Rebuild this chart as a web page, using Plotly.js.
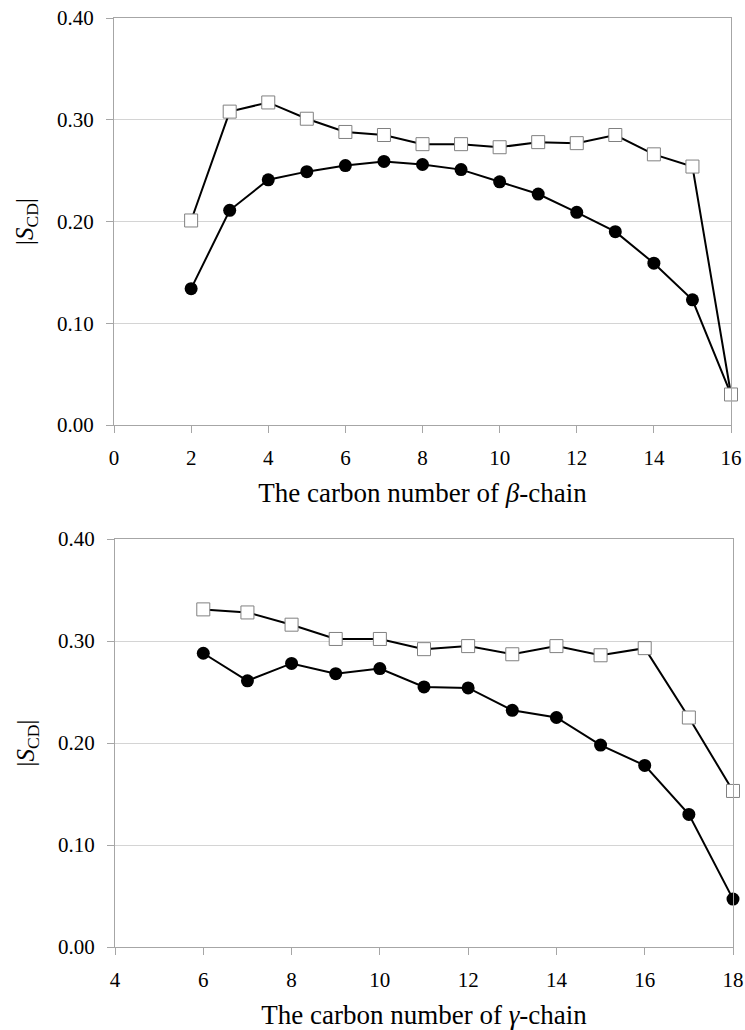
<!DOCTYPE html>
<html>
<head>
<meta charset="utf-8">
<script src="https://cdn.plot.ly/plotly-3.0.1.min.js"></script>
<style>html,body{margin:0;padding:0;background:#fff;}#chart{width:745px;height:1030px;}</style>
</head>
<body>
<div id="chart"></div>
<script>
// beta-chain (top panel)
const betaCarbon = [2, 3, 4, 5, 6, 7, 8, 9, 10, 11, 12, 13, 14, 15, 16];
const betaCircles = [0.134, 0.211, 0.241, 0.249, 0.255, 0.259, 0.256, 0.251, 0.239, 0.227, 0.209, 0.190, 0.159, 0.123, 0.030];
const betaSquares = [0.201, 0.308, 0.317, 0.301, 0.288, 0.285, 0.276, 0.276, 0.273, 0.278, 0.277, 0.285, 0.266, 0.254, 0.030];

// gamma-chain (bottom panel)
const gammaCarbon = [6, 7, 8, 9, 10, 11, 12, 13, 14, 15, 16, 17, 18];
const gammaSquares = [0.331, 0.328, 0.316, 0.302, 0.302, 0.292, 0.295, 0.287, 0.295, 0.286, 0.293, 0.225, 0.153];
const gammaCircles = [0.288, 0.261, 0.278, 0.268, 0.273, 0.255, 0.254, 0.232, 0.225, 0.198, 0.178, 0.130, 0.047];

const yTitle = '|<i>S</i><sub>CD</sub>|';
const betaTitle = 'The carbon number of <i>β</i>-chain';
const gammaTitle = 'The carbon number of <i>γ</i>-chain';

const FONT = 'Liberation Serif';
const lineStyle = {color: '#000', width: 2};
const circleMarker = {symbol: 'circle', size: 13, color: '#000', line: {color: '#000', width: 0}};
const squareMarker = {symbol: 'square', size: 13, color: '#fff', line: {color: '#808080', width: 1}};

const traces = [
  {x: betaCarbon, y: betaCircles, xaxis: 'x', yaxis: 'y', mode: 'lines+markers', line: lineStyle, marker: circleMarker, cliponaxis: false},
  {x: betaCarbon, y: betaSquares, xaxis: 'x', yaxis: 'y', mode: 'lines+markers', line: lineStyle, marker: squareMarker, cliponaxis: false},
  {x: gammaCarbon, y: gammaSquares, xaxis: 'x2', yaxis: 'y2', mode: 'lines+markers', line: lineStyle, marker: squareMarker, cliponaxis: false},
  {x: gammaCarbon, y: gammaCircles, xaxis: 'x2', yaxis: 'y2', mode: 'lines+markers', line: lineStyle, marker: circleMarker, cliponaxis: false}
];

function xAxis(domain, range, title, anchor) {
  return {
    domain: domain, range: range, dtick: 2, tick0: 0, anchor: anchor,
    showgrid: false, zeroline: false,
    showline: true, linecolor: '#a6a6a6', linewidth: 1, mirror: true,
    ticks: 'outside', ticklen: 7, tickcolor: '#a6a6a6', tickwidth: 1,
    ticklabelstandoff: 7,
    ticklabeloverflow: 'allow',
    tickfont: {family: FONT, size: 21, color: '#000'},
    title: {text: title, font: {family: FONT, size: 27, color: '#000'}, standoff: 13}
  };
}
function yAxis(domain, anchor) {
  return {
    domain: domain, range: [0, 0.4], dtick: 0.1, tick0: 0, tickformat: '.2f', anchor: anchor,
    showgrid: true, gridcolor: '#d4d4d4', gridwidth: 1, zeroline: false,
    showline: true, linecolor: '#a6a6a6', linewidth: 1, mirror: true,
    ticks: 'outside', ticklen: 7, tickcolor: '#a6a6a6', tickwidth: 1,
    ticklabelstandoff: 8,
    ticklabeloverflow: 'allow',
    tickfont: {family: FONT, size: 21, color: '#000'},
    title: {text: yTitle, font: {family: FONT, size: 25, color: '#000'}, standoff: 16}
  };
}

const layout = {
  width: 745, height: 1030,
  margin: {l: 0, r: 0, t: 0, b: 0},
  paper_bgcolor: '#fff', plot_bgcolor: '#fff',
  showlegend: false,
  font: {family: FONT, size: 21, color: '#000'},
  xaxis: xAxis([114/745, 731/745], [0, 16], betaTitle, 'y'),
  yaxis: yAxis([(1030-425)/1030, (1030-18)/1030], 'x'),
  xaxis2: xAxis([115/745, 733/745], [4, 18], gammaTitle, 'y2'),
  yaxis2: yAxis([(1030-947)/1030, (1030-539)/1030], 'x2')
};

Plotly.newPlot('chart', traces, layout, {staticPlot: true, displayModeBar: false});
</script>
</body>
</html>
